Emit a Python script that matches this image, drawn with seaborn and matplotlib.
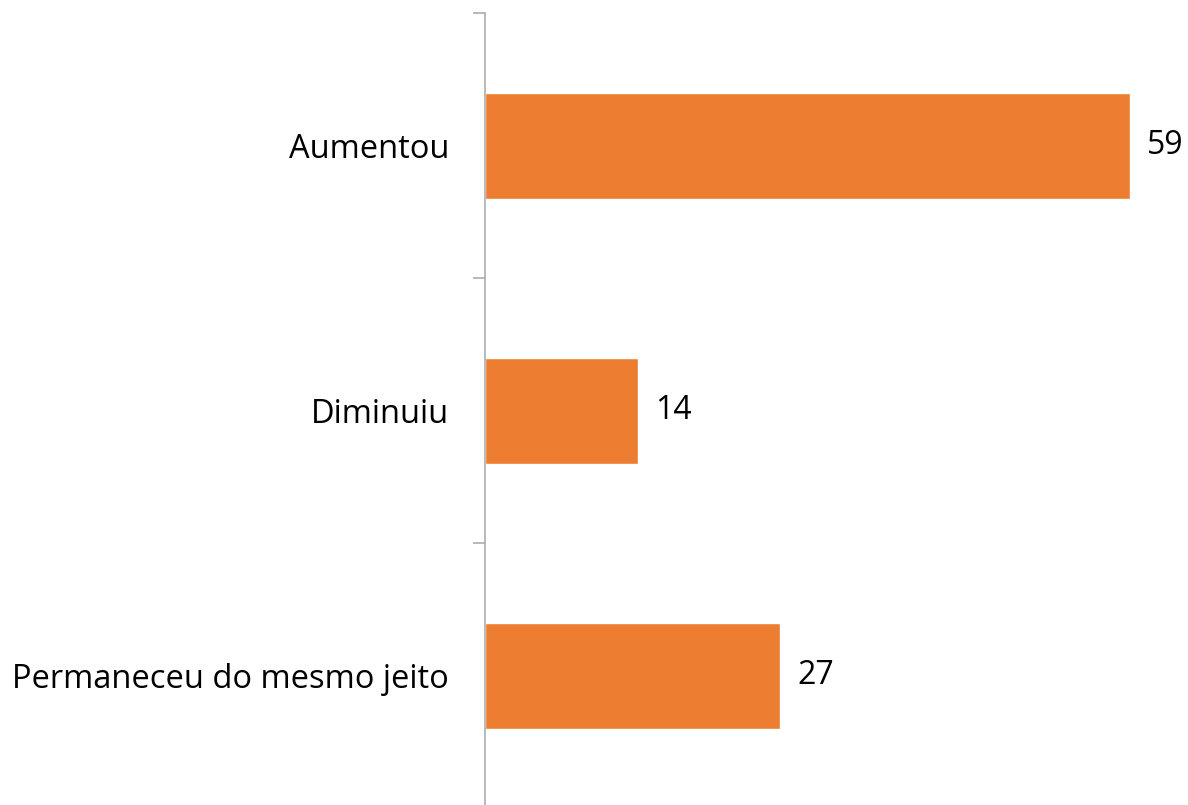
import matplotlib.pyplot as plt
import seaborn as sns
import pandas as pd

categorias = ['Aumentou', 'Diminuiu', 'Permaneceu do mesmo jeito']
valores = [59, 14, 27]

df = pd.DataFrame({'categoria': categorias, 'valor': valores})

sns.set_style('white')
plt.rcParams['font.family'] = ['Open Sans', 'DejaVu Sans']
plt.rcParams['text.color'] = 'black'
plt.rcParams['ytick.color'] = 'black'

fig = plt.figure(figsize=(11.88, 8.05), dpi=100)
ax = fig.add_axes([485 / 1188, -3 / 805, 700 / 1188, 795 / 805])

sns.barplot(data=df, x='valor', y='categoria', color='#ED7D31', width=0.4,
            saturation=1, ax=ax)

ax.bar_label(ax.containers[0], labels=[str(v) for v in valores],
             padding=12, fontsize=23, color='black')

ax.set_xlim(0, 64)
ax.set_ylim(2.5, -0.5)
ax.set_xlabel('')
ax.set_ylabel('')
ax.set_xticks([])

# ticks nas divisões das categorias, rótulos no centro
ax.set_yticks([-0.5, 0.5, 1.5, 2.5])
ax.set_yticklabels([])
ax.set_yticks(range(len(categorias)), minor=True)
ax.set_yticklabels(categorias, minor=True, fontsize=23.5, color='black')
ax.tick_params(axis='y', which='major', length=9, width=1.1, color='#A6A6A6', left=True)
ax.tick_params(axis='y', which='minor', length=0, pad=26)

for s in ['top', 'right', 'bottom']:
    ax.spines[s].set_visible(False)
ax.spines['left'].set_color('#A6A6A6')
ax.spines['left'].set_linewidth(1.1)

fig.savefig('out.png', dpi=100)
